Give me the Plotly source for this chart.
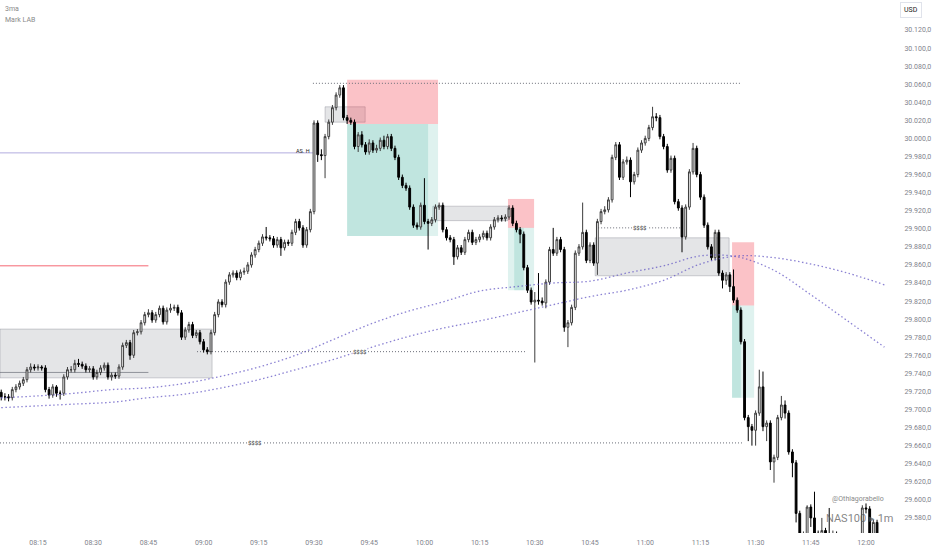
import pandas as pd
import plotly.graph_objects as go

DAY = "2023-06-01 "

# ---------------- candle data (1-minute, from 08:05) ----------------
open_ = [
    29719,29714,29714,29713,29722,29725,29729,29733,29744,29747,
    29746,29747,29746,29722,29716,29725,29718,29718,29736,29744,
    29744,29751,29750,29748,29744,29745,29736,29741,29746,29749,
    29736,29738,29737,29747,29771,29774,29760,29785,29786,29796,
    29805,29807,29799,29805,29812,29797,29810,29812,29813,29807,
    29780,29788,29794,29782,29785,29775,29766,29764,29785,29805,
    29819,29816,29841,29849,29851,29846,29852,29853,29860,29871,
    29877,29884,29891,29890,29889,29882,29888,29879,29885,29884,
    29896,29908,29901,29882,29899,29919,30017,29982,29981,30002,
    30018,30034,30048,30056,30023,30020,30018,29991,30004,29993,
    29985,29995,29987,29989,29998,29991,30002,29989,29979,29957,
    29948,29945,29924,29904,29902,29926,29908,29906,29910,29924,
    29926,29899,29890,29888,29869,29879,29874,29888,29896,29885,
    29888,29891,29895,29890,29902,29910,29912,29911,29913,29923,
    29906,29899,29894,29857,29832,29819,29821,29820,29818,29841,
    29877,29873,29888,29877,29791,29796,29813,29873,29880,29896,
    29865,29882,29862,29908,29919,29921,29932,29979,29993,29957,
    29974,29976,29952,29960,29987,29995,30000,30012,30024,30023,
    30002,29991,29965,29978,29930,29923,29891,29924,29963,29989,
    29960,29935,29904,29880,29868,29896,29851,29843,29849,29836,
    29821,29810,29775,29691,29681,29677,29696,29725,29681,29685,
    29642,29647,29691,29705,29696,29653,29641,29585,29555,29560,
    29592,29580,29563,29556,29566,29560,29558,29562,29550,29545,
    29548,29540,29538,29542,29548,29591,29590,29555,29575,29550,
    29548,
]
close = [
    29714,29714,29713,29722,29725,29729,29733,29744,29747,29746,
    29747,29746,29722,29716,29725,29718,29718,29736,29744,29744,
    29751,29750,29748,29744,29745,29736,29741,29746,29749,29736,
    29738,29737,29747,29771,29774,29760,29785,29786,29796,29805,
    29807,29799,29805,29812,29797,29810,29812,29813,29807,29780,
    29788,29794,29782,29785,29775,29766,29764,29785,29805,29819,
    29816,29841,29849,29851,29846,29852,29853,29860,29871,29877,
    29884,29891,29890,29889,29882,29888,29879,29885,29884,29896,
    29908,29901,29882,29899,29919,30017,29982,29981,30002,30018,
    30034,30048,30056,30023,30020,30018,29991,30004,29993,29985,
    29995,29987,29989,29998,29991,30002,29989,29979,29957,29948,
    29945,29924,29904,29902,29926,29908,29906,29910,29924,29926,
    29899,29890,29888,29869,29879,29874,29888,29896,29885,29888,
    29891,29895,29890,29902,29910,29912,29911,29913,29923,29906,
    29899,29894,29857,29832,29819,29821,29820,29818,29841,29877,
    29873,29888,29877,29791,29796,29813,29873,29880,29896,29865,
    29882,29862,29908,29919,29921,29932,29979,29993,29957,29974,
    29976,29952,29960,29987,29995,30000,30012,30024,30023,30002,
    29991,29965,29978,29930,29923,29891,29924,29963,29989,29960,
    29935,29904,29880,29868,29896,29851,29843,29849,29836,29821,
    29810,29775,29691,29681,29677,29696,29725,29681,29685,29642,
    29647,29691,29705,29696,29653,29641,29585,29555,29560,29592,
    29580,29563,29556,29566,29560,29558,29562,29550,29545,29548,
    29540,29538,29542,29548,29591,29590,29555,29575,29550,29548,
    29545,
]
high = [
    29722,29718,29717,29725,29728,29732,29736,29747,29751,29750,
    29750,29749,29749,29725,29728,29727,29721,29739,29747,29748,
    29755,29756,29753,29751,29748,29748,29744,29749,29752,29752,
    29741,29741,29750,29774,29777,29777,29788,29789,29799,29808,
    29811,29810,29808,29815,29815,29813,29817,29816,29816,29810,
    29791,29797,29797,29788,29788,29778,29769,29788,29808,29822,
    29822,29844,29852,29854,29854,29855,29857,29863,29874,29880,
    29887,29894,29902,29893,29892,29891,29891,29888,29888,29899,
    29911,29911,29904,29902,29922,30020,30020,29988,30005,30021,
    30037,30051,30059,30059,30026,30023,30021,30007,30008,29996,
    29999,29998,29993,30001,30003,30005,30005,29992,29982,29960,
    29951,29948,29927,29907,29929,29956,29911,29913,29927,29929,
    29929,29902,29893,29891,29882,29882,29891,29899,29899,29891,
    29894,29898,29898,29905,29913,29915,29915,29916,29926,29926,
    29909,29902,29897,29860,29835,29830,29851,29824,29844,29880,
    29901,29891,29891,29880,29799,29816,29876,29883,29929,29899,
    29885,29885,29911,29922,29925,29935,29982,29996,29996,29977,
    29980,29979,29963,29990,29998,30003,30015,30035,30028,30026,
    30005,29994,29981,29981,29933,29926,29927,29966,29995,29992,
    29963,29938,29907,29883,29899,29899,29854,29852,29852,29855,
    29824,29813,29778,29694,29684,29699,29744,29742,29688,29688,
    29650,29694,29715,29710,29699,29656,29644,29588,29565,29594,
    29595,29609,29566,29580,29569,29591,29566,29565,29553,29552,
    29551,29545,29546,29552,29594,29596,29593,29578,29578,29553,
    29551,
]
low = [
    29710,29710,29709,29710,29719,29722,29726,29730,29741,29743,
    29743,29743,29719,29712,29713,29714,29711,29715,29733,29741,
    29741,29747,29745,29741,29741,29733,29733,29738,29743,29733,
    29732,29734,29734,29744,29768,29755,29757,29782,29783,29793,
    29802,29796,29796,29802,29794,29794,29807,29809,29804,29777,
    29777,29785,29779,29779,29772,29763,29761,29761,29782,29802,
    29813,29813,29838,29846,29843,29843,29849,29850,29857,29868,
    29874,29881,29887,29886,29879,29879,29870,29876,29881,29881,
    29893,29898,29879,29879,29896,29916,29974,29976,29956,29999,
    30015,30031,30045,30020,30016,30015,29988,29985,29990,29982,
    29982,29984,29984,29986,29988,29988,29986,29976,29954,29945,
    29942,29921,29901,29899,29899,29905,29877,29903,29907,29921,
    29896,29887,29885,29860,29866,29871,29871,29885,29882,29882,
    29885,29888,29887,29887,29899,29907,29908,29908,29910,29903,
    29896,29884,29854,29829,29816,29752,29816,29815,29812,29838,
    29870,29870,29874,29786,29769,29793,29810,29870,29877,29862,
    29862,29859,29849,29905,29916,29918,29929,29976,29954,29954,
    29971,29935,29949,29957,29984,29992,29997,30009,30019,29999,
    29988,29962,29962,29927,29920,29874,29888,29921,29960,29957,
    29932,29901,29877,29865,29865,29848,29834,29838,29830,29818,
    29807,29772,29688,29665,29660,29660,29693,29676,29665,29633,
    29619,29644,29688,29690,29650,29625,29575,29545,29550,29555,
    29570,29555,29548,29550,29552,29550,29552,29545,29540,29540,
    29535,29532,29534,29538,29545,29585,29550,29550,29545,29543,
    29540,
]

# ---------------- moving averages (sampled every 10 minutes) ----------------
ma_times = ["08:05","08:15","08:25","08:35","08:45","08:55","09:05","09:15","09:25",
            "09:35","09:45","09:55","10:05","10:15","10:25","10:35","10:45","10:55",
            "11:05","11:15","11:25","11:35","11:45","11:55","12:05"]
ma_fast = [29713,29715,29718,29722,29724,29729,29737,29747,29760,29777,29794,29808,
           29819,29831,29836,29840,29842,29851,29859,29870,29869,29854,29827,29798,29769]
ma_slow = [29702,29704,29706,29708,29713,29717,29724,29733,29744,29755,29768,29780,
           29790,29798,29807,29816,29825,29832,29843,29861,29870,29868,29861,29851,29838]

# ---------------- axis ticks ----------------
price_ticks = [29580 + 20 * k for k in range(28)]
price_labels = [f"{v // 1000}.{v % 1000:03d},0" for v in price_ticks]
time_ticks = ["08:15","08:30","08:45","09:00","09:15","09:30","09:45","10:00",
              "10:15","10:30","10:45","11:00","11:15","11:30","11:45","12:00"]

# ---------------- drawings (time, price) ----------------
grey_zones = [("08:04:40", "09:02:18", 29735, 29789),
              ("09:33:00", "09:43:54", 30018, 30035),
              ("10:02:18", "10:22:42", 29909, 29925),
              ("10:46:24", "11:22:48", 29848, 29890)]
stop_zones = [("09:39:00", "10:03:42", 30016, 30065),
              ("10:22:42", "10:29:48", 29901, 29933),
              ("11:23:36", "11:29:36", 29815, 29885)]
target_zones = [("09:39:00", "10:03:42", 29892, 30016),
                ("10:22:42", "10:29:48", 29832, 29901),
                ("11:23:36", "11:29:36", 29713, 29815)]
target_filled = [("09:39:00", "10:01:00", 29892, 30016),
                 ("10:24:24", "10:27:00", 29832, 29901),
                 ("11:23:36", "11:26:00", 29713, 29815)]
liquidity_lines = [("08:58:12", "10:27:24", 29764, "09:42:30"),
                   ("10:47:12", "11:09:30", 29901, "10:58:36"),
                   ("08:04:40", "11:26:36", 29663, "09:14:00")]
session_high = ("09:29:42", "11:25:48", 30061)
asia_high = ("08:04:40", "09:29:42", 29984)
red_level = ("08:04:40", "08:45:00", 29859)
box_mid = ("08:04:40", "08:45:00", 29741)

T = lambda s: DAY + s
times = pd.date_range(T("08:05"), periods=len(close), freq="min")

fig = go.Figure()

for x0, x1, y0, y1 in grey_zones:
    fig.add_shape(type="rect", x0=T(x0), x1=T(x1), y0=y0, y1=y1, layer="below",
                  fillcolor="rgba(120,123,134,0.2)", line=dict(color="rgba(120,123,134,0.35)", width=1))
for x0, x1, y0, y1 in stop_zones:
    fig.add_shape(type="rect", x0=T(x0), x1=T(x1), y0=y0, y1=y1, layer="below",
                  fillcolor="rgba(242,54,69,0.3)", line=dict(width=0))
for x0, x1, y0, y1 in target_zones:
    fig.add_shape(type="rect", x0=T(x0), x1=T(x1), y0=y0, y1=y1, layer="below",
                  fillcolor="rgba(8,153,129,0.13)", line=dict(width=0))
for x0, x1, y0, y1 in target_filled:
    fig.add_shape(type="rect", x0=T(x0), x1=T(x1), y0=y0, y1=y1, layer="below",
                  fillcolor="rgba(8,153,129,0.14)", line=dict(width=0))

for x0, x1, y, lx in liquidity_lines:
    fig.add_shape(type="line", x0=T(x0), x1=T(x1), y0=y, y1=y, layer="below",
                  line=dict(color="#6b6e78", width=1, dash="1px,2px"))
    fig.add_annotation(x=T(lx), y=y, text="$$$$", showarrow=False, bgcolor="white",
                       xanchor="center", yanchor="middle",
                       font=dict(size=6, color="#333333", family="Roboto"), borderpad=0)

x0, x1, y = session_high
fig.add_shape(type="line", x0=T(x0), x1=T(x1), y0=y, y1=y, layer="below",
              line=dict(color="#6b6e78", width=1, dash="1px,2px"))
x0, x1, y = asia_high
fig.add_shape(type="line", x0=T(x0), x1=T(x1), y0=y, y1=y, layer="below",
              line=dict(color="#b3acdf", width=1))
fig.add_annotation(x=T(x1), y=y, text="AS. H", showarrow=False, xanchor="right", yanchor="bottom",
                   font=dict(size=5.5, color="#222222", family="Roboto"), yshift=-3, xshift=-1)
x0, x1, y = red_level
fig.add_shape(type="line", x0=T(x0), x1=T(x1), y0=y, y1=y, layer="below",
              line=dict(color="rgba(242,54,69,0.75)", width=1))
x0, x1, y = box_mid
fig.add_shape(type="line", x0=T(x0), x1=T(x1), y0=y, y1=y, layer="below",
              line=dict(color="rgba(90,93,104,0.6)", width=1))

ma_x = [T(t) for t in ma_times]
ma_line = dict(color="rgba(100,88,196,0.75)", width=1.3, dash="1.5px,2.5px", shape="spline")
fig.add_trace(go.Scatter(x=ma_x, y=ma_slow, mode="lines", line=ma_line, hoverinfo="skip"))
fig.add_trace(go.Scatter(x=ma_x, y=ma_fast, mode="lines", line=ma_line, hoverinfo="skip"))

fig.add_trace(go.Candlestick(
    x=times, open=open_, high=high, low=low, close=close, whiskerwidth=0,
    increasing=dict(fillcolor="#ffffff", line=dict(color="#3c3c3c", width=1)),
    decreasing=dict(fillcolor="#000000", line=dict(color="#000000", width=1)),
))

def note(x, y, text, size, color, **kw):
    fig.add_annotation(xref="paper", yref="paper", x=x / 886, y=1 - y / 533, text=text, showarrow=False,
                       yanchor="middle", font=dict(size=size, color=color, family="Roboto"), **kw)

note(3, 9, "3ma", 7, "#8a8a8a", xanchor="left")
note(3, 20, "Mark LAB", 7, "#8a8a8a", xanchor="left")
note(911, 10, "USD", 7, "#222222", xanchor="center", bgcolor="white", bordercolor="#e0e3eb",
     borderwidth=1, borderpad=3)
note(858, 499, "@Othiagorabello", 7, "#8a8a8a", xanchor="center")
note(859, 518, "NAS100 \u25b8 1m", 11, "rgba(90,90,90,0.75)", xanchor="center")

fig.update_layout(
    width=932, height=550, margin=dict(l=0, r=46, t=0, b=17),
    paper_bgcolor="white", plot_bgcolor="white", showlegend=False,
    font=dict(family="Roboto", size=7, color="#7f838c"),
    xaxis=dict(type="date", range=[T("08:04:40"), T("12:05:26")], rangeslider=dict(visible=False),
               tickvals=[T(t) for t in time_ticks], ticktext=time_ticks, showgrid=False, zeroline=False,
               showline=False, ticks="outside", ticklen=3, tickcolor="rgba(0,0,0,0)",
               tickfont=dict(size=7, color="#7f838c")),
    yaxis=dict(side="right", range=[29563.3, 30153.2], tickvals=price_ticks, ticktext=price_labels,
               showgrid=False, zeroline=False, showline=False, ticks="outside", ticklen=16,
               tickcolor="rgba(0,0,0,0)", tickfont=dict(size=7, color="#7f838c")),
)

fig.write_html("out.html", config={"displayModeBar": False},
               post_script="document.body.style.margin='0px';document.body.style.overflow='hidden';")
